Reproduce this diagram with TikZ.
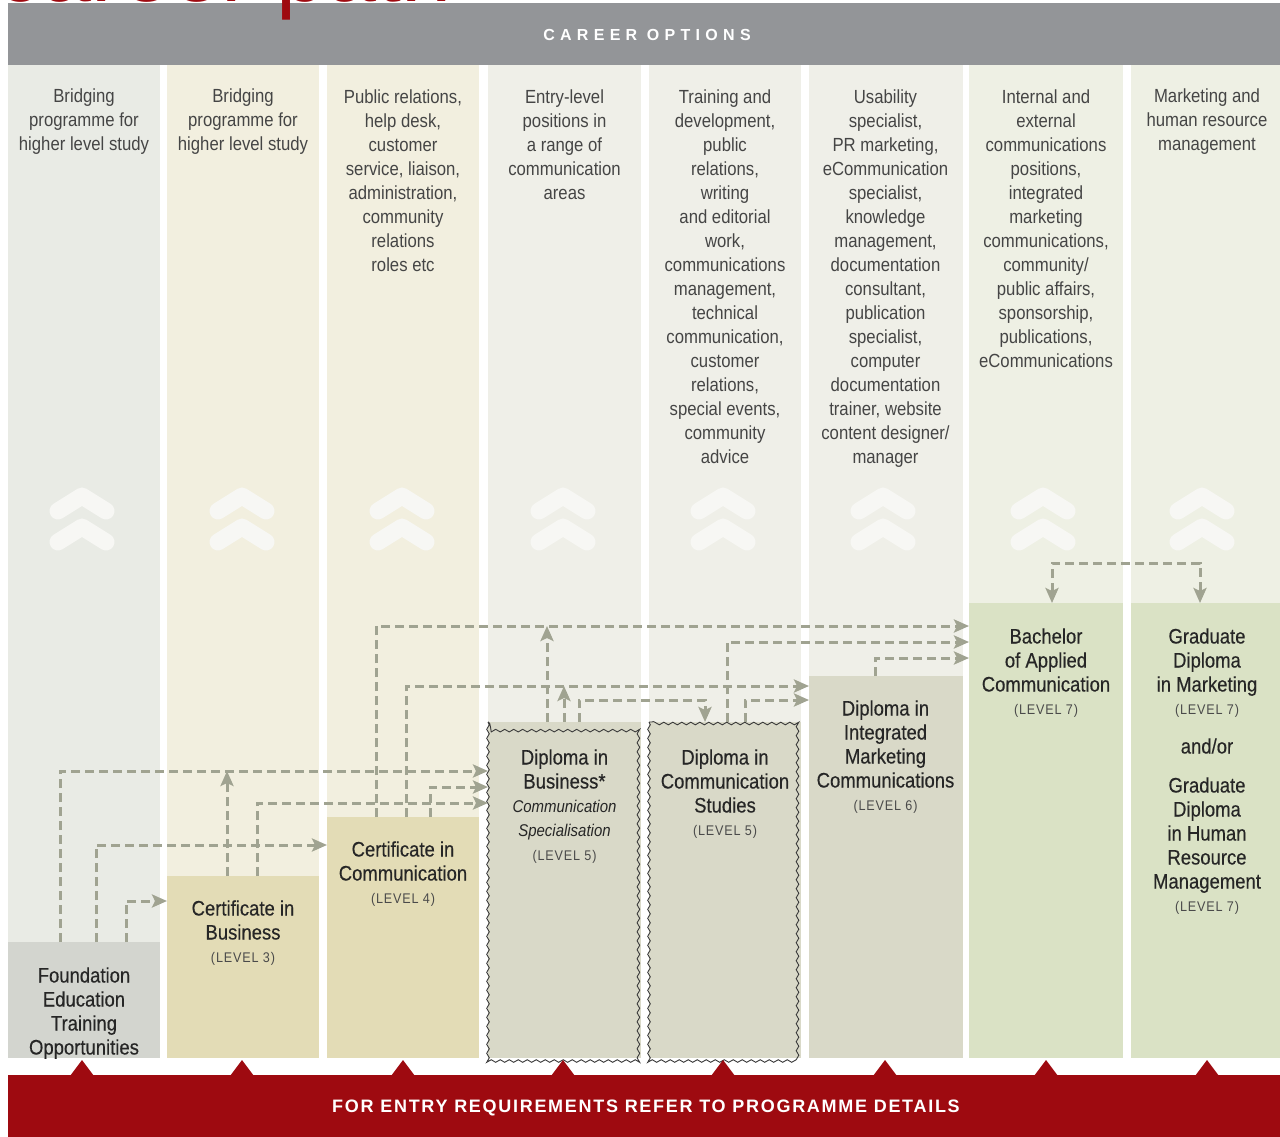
\documentclass[tikz,border=0pt]{standalone}
\usepackage{fontspec}
\setmainfont{Liberation Sans}
\newfontfamily\condfont{Liberation Sans}[FakeStretch=0.88]
\newfontfamily\boxfont{Liberation Sans}[FakeStretch=0.88,FakeBold=0.35]
\newfontfamily\lvlfont{Liberation Sans}[FakeStretch=0.9,LetterSpace=6]
\newfontfamily\headfont{Liberation Sans}[LetterSpace=33]
\newfontfamily\footfont{Liberation Sans}[LetterSpace=9.5]
\newfontfamily\titlefont{Liberation Sans}
\usetikzlibrary{arrows.meta,decorations.pathmorphing}
\definecolor{headgray}{HTML}{939598}
\definecolor{redc}{HTML}{9E0A10}
\definecolor{bgA}{HTML}{E9EBE5}
\definecolor{bgB}{HTML}{F2EFDF}
\definecolor{bgC}{HTML}{EFEFE8}
\definecolor{bgD}{HTML}{EEF0E4}
\definecolor{foundfill}{HTML}{D3D5CF}
\definecolor{certfill}{HTML}{E3DCB6}
\definecolor{dipfill}{HTML}{D9D9C8}
\definecolor{bachfill}{HTML}{DAE2C5}
\definecolor{flowc}{HTML}{A0A391}
\definecolor{chevc}{HTML}{F7F7F4}
\definecolor{coltxt}{HTML}{454545}
\definecolor{boxtxt}{HTML}{262626}
\definecolor{lvltxt}{HTML}{4A4A4A}
\definecolor{wavec}{HTML}{3A3A3A}
\tikzset{
  colbg/.style={rectangle, inner sep=0, outer sep=0, draw=none, anchor=north west},
  boxnode/.style={rectangle, inner sep=0, outer sep=0, draw=none, anchor=north west},
  coltext/.style={font=\condfont\fontsize{19}{24}\selectfont, text=coltxt, align=center, inner sep=0, anchor=base},
  boxtext/.style={font=\boxfont\fontsize{21}{24}\selectfont, text=boxtxt, align=center, inner sep=0, anchor=base},
  chev/.style={draw=chevc, line width=17pt, line cap=round, line join=round},
  wavy/.style={draw=wavec, line width=0.9pt, decorate, decoration={snake, amplitude=1.3pt, segment length=9pt}},
  flow/.style={draw=flowc, line width=3pt, dash pattern=on 9pt off 5pt, ->},
  redtri/.style={fill=redc, draw=none}
}
\newcommand{\lvl}[1]{{\lvlfont\fontsize{14}{24}\selectfont\color{lvltxt}#1}}
\newcommand{\itl}[1]{{\condfont\itshape\fontsize{17}{24}\selectfont #1}}
\begin{document}
\begin{tikzpicture}[x=1pt, y=-1pt, >={Stealth[length=15pt,width=13pt,inset=3pt]}]
\useasboundingbox (0,0) rectangle (1280,1137);
\clip (0,0) rectangle (1280,1137);
\fill[white] (0,0) rectangle (1280,1137);

% columns
\node[colbg, fill=bgA, minimum width=152, minimum height=993] (col1) at (8,65) {};
\node[colbg, fill=bgB, minimum width=152, minimum height=993] (col2) at (167,65) {};
\node[colbg, fill=bgB, minimum width=152, minimum height=993] (col3) at (327,65) {};
\node[colbg, fill=bgC, minimum width=153, minimum height=993] (col4) at (488,65) {};
\node[colbg, fill=bgC, minimum width=152, minimum height=993] (col5) at (649,65) {};
\node[colbg, fill=bgC, minimum width=154, minimum height=993] (col6) at (809,65) {};
\node[colbg, fill=bgD, minimum width=154, minimum height=993] (col7) at (969,65) {};
\node[colbg, fill=bgD, minimum width=149, minimum height=993] (col8) at (1131,65) {};

% header
\node[colbg, fill=headgray, minimum width=1272, minimum height=62] (head) at (8,3) {};
\node[font=\headfont\bfseries\fontsize{16}{16}\selectfont, text=white, inner sep=0] (headtext) at (647,35) {CAREER OPTIONS};
\node[font=\titlefont\fontsize{90}{90}\selectfont, text=redc, inner sep=0, anchor=base west] (title) at (-4,2) {career path};

% column texts (anchor = baseline of last line)
\node[coltext] (t1) at (84,151) {Bridging\\programme for\\higher level study};
\node[coltext] (t2) at (243,151) {Bridging\\programme for\\higher level study};
\node[coltext] (t3) at (403,271) {Public relations,\\help desk,\\customer\\service, liaison,\\administration,\\community\\relations\\roles etc};
\node[coltext] (t4) at (564.5,199) {Entry-level\\positions in\\a range of\\communication\\areas};
\node[coltext] (t5) at (725,463) {Training and\\development,\\public\\relations,\\writing\\and editorial\\work,\\communications\\management,\\technical\\communication,\\customer\\relations,\\special events,\\community\\advice};
\node[coltext] (t6) at (885.5,463) {Usability\\specialist,\\PR marketing,\\eCommunication\\specialist,\\knowledge\\management,\\documentation\\consultant,\\publication\\specialist,\\computer\\documentation\\trainer, website\\content designer/\\manager};
\node[coltext] (t7) at (1046,367) {Internal and\\external\\communications\\positions,\\integrated\\marketing\\communications,\\community/\\public affairs,\\sponsorship,\\publications,\\eCommunications};
\node[coltext] (t8) at (1207,151) {Marketing and\\human resource\\management};

% chevrons
\foreach \cx in {82,242,402,563,723,883,1043,1202}{
  \draw[chev] (\cx-24,511) -- (\cx,496) -- (\cx+24,511);
  \draw[chev] (\cx-24,542) -- (\cx,527) -- (\cx+24,542);
}

% boxes
\node[boxnode, fill=foundfill, minimum width=152, minimum height=116] (found) at (8,942) {};
\node[boxnode, fill=certfill, minimum width=152, minimum height=182] (certbus) at (167,876) {};
\node[boxnode, fill=certfill, minimum width=152, minimum height=241] (certcom) at (327,817) {};
\node[boxnode, fill=dipfill, minimum width=153, minimum height=336] (dipbus) at (488,722) {};
\node[boxnode, fill=dipfill, minimum width=152, minimum height=336] (dipcom) at (649,722) {};
\node[boxnode, fill=dipfill, minimum width=154, minimum height=382] (dipimc) at (809,676) {};
\node[boxnode, fill=bachfill, minimum width=154, minimum height=455] (bach) at (969,603) {};
\node[boxnode, fill=bachfill, minimum width=149, minimum height=455] (grad) at (1131,603) {};
\draw[wavy] (dipbus.north west) rectangle (dipbus.south east);
\draw[wavy] (dipcom.north west) rectangle (dipcom.south east);

% box texts (anchor = baseline of last line)
\node[boxtext] (foundt) at (84,1054.5) {Foundation\\Education\\Training\\Opportunities};
\node[boxtext] (certbust) at (243,962.5) {Certificate in\\Business\\[-1pt]\lvl{(LEVEL 3)}};
\node[boxtext] (certcomt) at (403,903.5) {Certificate in\\Communication\\[-1pt]\lvl{(LEVEL 4)}};
\node[boxtext] (dipbust) at (564.5,860.5) {Diploma in\\Business*\\\itl{Communication}\\\itl{Specialisation}\\\lvl{(LEVEL 5)}};
\node[boxtext] (dipcomt) at (725,835.5) {Diploma in\\Communication\\Studies\\[-1pt]\lvl{(LEVEL 5)}};
\node[boxtext] (dipimct) at (885.5,810.5) {Diploma in\\Integrated\\Marketing\\Communications\\[-1pt]\lvl{(LEVEL 6)}};
\node[boxtext] (bacht) at (1046,714.5) {Bachelor\\of Applied\\Communication\\[-1pt]\lvl{(LEVEL 7)}};
\node[boxtext] (gradt) at (1207,911.5) {Graduate\\Diploma\\in Marketing\\[-1pt]\lvl{(LEVEL 7)}\\[15pt]and/or\\[15pt]Graduate\\Diploma\\in Human\\Resource\\Management\\[-1pt]\lvl{(LEVEL 7)}};

% merge points
\coordinate (m1) at (227,771);
\coordinate (m2) at (547,626);
\coordinate (m3) at (564,686);

% connectors
\draw[flow] ([xshift=52pt]found.north west) |- (dipbus.west |- 0,771);
\draw[flow] ([xshift=88pt]found.north west) |- (certcom.west |- 0,845);
\draw[flow] ([xshift=118pt]found.north west) |- (certbus.west |- 0,901);
\draw[flow] ([xshift=60pt]certbus.north west) -- (m1);
\draw[flow] ([xshift=90pt]certbus.north west) |- (dipbus.west |- 0,803);
\draw[flow] ([xshift=49pt]certcom.north west) |- (bach.west |- 0,626);
\draw[flow] ([xshift=79pt]certcom.north west) |- (dipimc.west |- 0,686);
\draw[flow] ([xshift=103pt]certcom.north west) |- (dipbus.west |- 0,787);
\draw[flow] ([xshift=59pt]dipbus.north west) -- (m2);
\draw[flow] ([xshift=76pt]dipbus.north west) -- (m3);
\draw[flow] ([xshift=91pt]dipbus.north west) -- ++(0,-22) -| ([xshift=56pt]dipcom.north west);
\draw[flow] ([xshift=78pt]dipcom.north west) |- (bach.west |- 0,642);
\draw[flow] ([xshift=96pt]dipcom.north west) |- (dipimc.west |- 0,700);
\draw[flow] ([xshift=66pt]dipimc.north west) |- (bach.west |- 0,658);
\draw[flow, <->] ([xshift=83pt]bach.north west) -- ++(0,-40) -| ([xshift=69pt]grad.north west);

% footer
\node[colbg, fill=redc, minimum width=1272, minimum height=62] (bar) at (8,1075) {};
\foreach \cx in {82,242,403,563,723,885,1046,1207}{
  \fill[redtri] (\cx-12,1076) -- (\cx,1060) -- (\cx+12,1076) -- cycle;
}
\node[font=\footfont\bfseries\fontsize{18}{18}\selectfont, text=white, inner sep=0] (foottext) at (646,1108) {FOR ENTRY REQUIREMENTS REFER TO PROGRAMME DETAILS};
\end{tikzpicture}
\end{document}
